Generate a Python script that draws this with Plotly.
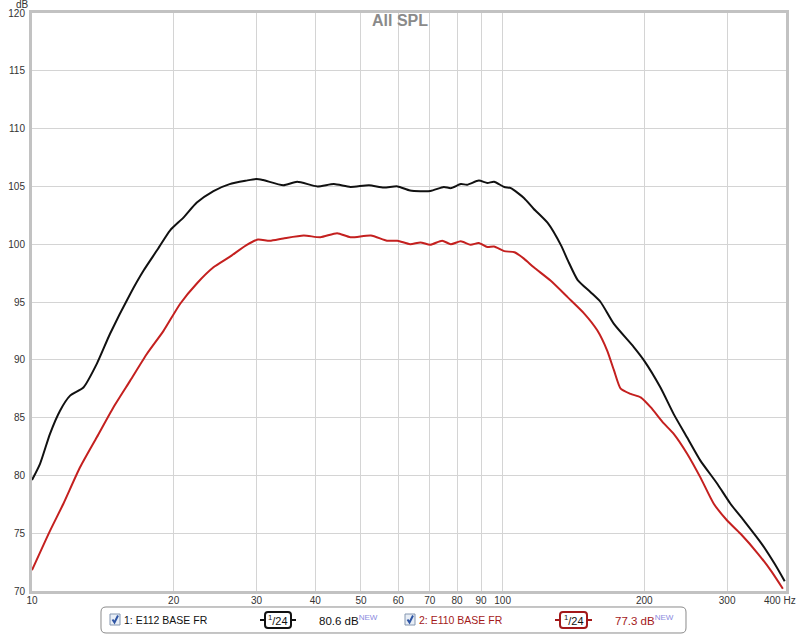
import plotly.graph_objects as go

# ---- data ----
black_freq = [10, 10.4, 10.92, 11.47, 12.05, 12.86, 13.73, 14.65, 16.17, 17.25,
              18.42, 19.66, 20.98, 22.4, 24.3, 26.3, 28.5, 30.0, 31.0, 34.2,
              36.6, 40.4, 43.8, 47.5, 52.0, 55.9, 59.8, 63.6, 70.2, 75.0,
              77.6, 81.5, 84.1, 89.0, 92.8, 95.9, 100.8, 104.1, 111, 116.5,
              124.9, 133.1, 137.6, 144.4, 153.8, 161.5, 172.4, 190, 199.7, 216.5,
              231, 246.5, 263, 285.6, 304.9, 325.5, 355, 378.5, 397.6]
black_spl = [79.6, 81.0, 83.6, 85.6, 86.9, 87.6, 89.65, 92.25, 95.7, 97.7,
             99.45, 101.2, 102.3, 103.6, 104.6, 105.2, 105.5, 105.65, 105.55, 105.1,
             105.4, 105.0, 105.2, 104.95, 105.1, 104.9, 105.0, 104.65, 104.6, 104.95,
             104.85, 105.2, 105.15, 105.5, 105.3, 105.4, 104.95, 104.85, 104.0, 103.05,
             101.8, 99.9, 98.6, 96.9, 95.85, 95.0, 93.1, 91.1, 89.95, 87.6,
             85.3, 83.3, 81.3, 79.3, 77.55, 76.1, 74.1, 72.35, 70.85]

red_freq = [10, 10.92, 11.66, 12.65, 13.73, 14.9, 16.17, 17.54, 19.03, 20.65,
            22.4, 24.3, 26.3, 28.5, 30.2, 32.0, 34.2, 37.8, 41.0, 44.5,
            47.5, 52.5, 56.8, 59.8, 63.6, 66.9, 70.2, 74.4, 77.6, 81.5,
            85.5, 89.0, 92.8, 95.9, 100.8, 106, 111, 116.5, 126.4, 137.6,
            149.1, 158.9, 166.8, 172.4, 178.2, 187.1, 196.5, 206.3, 220.1, 231,
            246.5, 263, 281, 300, 320.4, 349.3, 372.6, 394]
red_spl = [71.8, 75.2, 77.55, 80.7, 83.3, 85.9, 88.2, 90.5, 92.5, 94.85,
           96.6, 98.0, 98.9, 99.9, 100.4, 100.3, 100.5, 100.75, 100.6, 100.95,
           100.6, 100.75, 100.3, 100.3, 100.0, 100.15, 99.95, 100.3, 100.0, 100.25,
           99.95, 100.1, 99.75, 99.8, 99.4, 99.3, 98.75, 98.0, 96.85, 95.4,
           94.0, 92.55, 90.8, 89.1, 87.5, 87.05, 86.75, 85.9, 84.5, 83.6,
           81.9, 79.85, 77.55, 76.1, 74.95, 73.2, 71.7, 70.2]

x_tick_vals = [10, 20, 30, 40, 50, 60, 70, 80, 90, 100, 200, 300, 400]
x_tick_text = ["10", "20", "30", "40", "50", "60", "70", "80", "90", "100", "200", "300", ""]
x_end_label = "400 Hz"
y_tick_vals = [70, 75, 80, 85, 90, 95, 100, 105, 110, 115, 120]

series_names = ["1: E112 BASE FR", "2: E110 BASE FR"]
series_levels = ["80.6 dB", "77.3 dB"]

# ---- layout geometry (pixels) ----
W, H = 800, 635
L, R, T, B = 32, 786, 13, 591


def px(x):
    return (x - L) / (R - L)


def py(y):
    return (B - y) / (B - T)


FONT = "Liberation Sans, Arial, sans-serif"
BLACK = "#111111"
RED = "#c4201f"
RED_TXT = "#a3191a"

fig = go.Figure()
fig.add_trace(go.Scatter(x=black_freq, y=black_spl, mode="lines",
                         line=dict(color=BLACK, width=2, shape="spline", smoothing=0.6),
                         name=series_names[0], showlegend=False, hoverinfo="skip"))
fig.add_trace(go.Scatter(x=red_freq, y=red_spl, mode="lines",
                         line=dict(color=RED, width=2, shape="spline", smoothing=0.6),
                         name=series_names[1], showlegend=False, hoverinfo="skip"))

shapes = []
annotations = []


def rrect_path(x0, y0, x1, y1, r):
    pts = [
        ("M", (x0 + r, y0)), ("L", (x1 - r, y0)), ("Q", (x1, y0), (x1, y0 + r)),
        ("L", (x1, y1 - r)), ("Q", (x1, y1), (x1 - r, y1)), ("L", (x0 + r, y1)),
        ("Q", (x0, y1), (x0, y1 - r)), ("L", (x0, y0 + r)), ("Q", (x0, y0), (x0 + r, y0)),
    ]
    s = ""
    for item in pts:
        cmd = item[0]
        coords = " ".join(f"{px(a):.5f},{py(b):.5f}" for a, b in item[1:])
        s += f"{cmd}{coords} "
    return s + "Z"


# legend frame
shapes.append(dict(type="path", xref="paper", yref="paper",
                   path=rrect_path(101, 607, 686, 633, 5),
                   line=dict(color="#8a8a8a", width=1), fillcolor="white", layer="above"))


def legend_item(idx, cb_x, name_x, box_x0, box_x1, lvl_x, color, txt_color):
    shapes.append(dict(type="rect", xref="paper", yref="paper",
                       x0=px(cb_x), x1=px(cb_x + 10), y0=py(625), y1=py(614),
                       line=dict(color="#8496b0", width=1), fillcolor="#e8eef6", layer="above"))
    chk = f"M{px(cb_x+2.5):.5f},{py(619.5):.5f} L{px(cb_x+4.5):.5f},{py(622.5):.5f} L{px(cb_x+8):.5f},{py(615.5):.5f}"
    shapes.append(dict(type="path", xref="paper", yref="paper", path=chk,
                       line=dict(color="#2f55a4", width=2), layer="above"))
    annotations.append(dict(x=px(name_x), y=py(619.5), xref="paper", yref="paper",
                            xanchor="left", yanchor="middle", showarrow=False,
                            text=series_names[idx],
                            font=dict(family=FONT, size=10.5, color=txt_color)))
    shapes.append(dict(type="line", xref="paper", yref="paper",
                       x0=px(box_x0 - 5), x1=px(box_x1 + 5), y0=py(620), y1=py(620),
                       line=dict(color=color, width=2), layer="above"))
    shapes.append(dict(type="path", xref="paper", yref="paper",
                       path=rrect_path(box_x0, 612, box_x1, 628, 3),
                       line=dict(color=color, width=2), fillcolor="white", layer="above"))
    annotations.append(dict(x=px((box_x0 + box_x1) / 2), y=py(620), xref="paper", yref="paper",
                            xanchor="center", yanchor="middle", showarrow=False,
                            text="<sup>1</sup>/24",
                            font=dict(family=FONT, size=11, color="#111111")))
    annotations.append(dict(x=px(lvl_x), y=py(619.5), xref="paper", yref="paper",
                            xanchor="left", yanchor="middle", showarrow=False,
                            text=series_levels[idx] + "<sup><span style='color:#8c8ce0'>NEW</span></sup>",
                            font=dict(family=FONT, size=11.5, color=txt_color)))


legend_item(0, 110, 122, 265, 291, 317, BLACK, BLACK)
legend_item(1, 405, 417, 560, 587, 613, RED_TXT, RED_TXT)

# title, dB unit, end label of x axis
annotations.append(dict(x=px(400), y=py(21), xref="paper", yref="paper",
                        xanchor="center", yanchor="middle", showarrow=False,
                        text="<b>All SPL</b>",
                        font=dict(family=FONT, size=16, color="#8a8a8a")))
annotations.append(dict(x=px(22), y=py(4), xref="paper", yref="paper",
                        xanchor="center", yanchor="middle", showarrow=False,
                        text="dB", font=dict(family=FONT, size=10, color="#333333")))
annotations.append(dict(x=px(798), y=py(600), xref="paper", yref="paper",
                        xanchor="right", yanchor="middle", showarrow=False,
                        text=x_end_label, font=dict(family=FONT, size=10, color="#333333")))

fig.update_layout(
    width=W, height=H,
    margin=dict(l=L, r=W - R, t=T, b=H - B, pad=0, autoexpand=False),
    paper_bgcolor="white", plot_bgcolor="white",
    showlegend=False,
    shapes=shapes, annotations=annotations,
    xaxis=dict(type="log", range=[1, 2.6022], tickmode="array",
               tickvals=x_tick_vals, ticktext=x_tick_text, automargin=False,
               showgrid=True, gridcolor="#d4d4d4", gridwidth=1,
               showline=True, linecolor="#c2c2c2", linewidth=3, mirror=True,
               ticks="", zeroline=False, ticklabelstandoff=-2,
               tickfont=dict(family=FONT, size=10, color="#333333")),
    yaxis=dict(range=[70, 120], tickmode="array", tickvals=y_tick_vals, automargin=False,
               showgrid=True, gridcolor="#d4d4d4", gridwidth=1,
               showline=True, linecolor="#c2c2c2", linewidth=3, mirror=True,
               ticks="", zeroline=False, ticklabelstandoff=2,
               tickfont=dict(family=FONT, size=10, color="#333333")),
)

fig.write_html("out.html", config={"displayModeBar": False},
               post_script="document.body.style.margin='0';document.body.style.overflow='hidden';")
